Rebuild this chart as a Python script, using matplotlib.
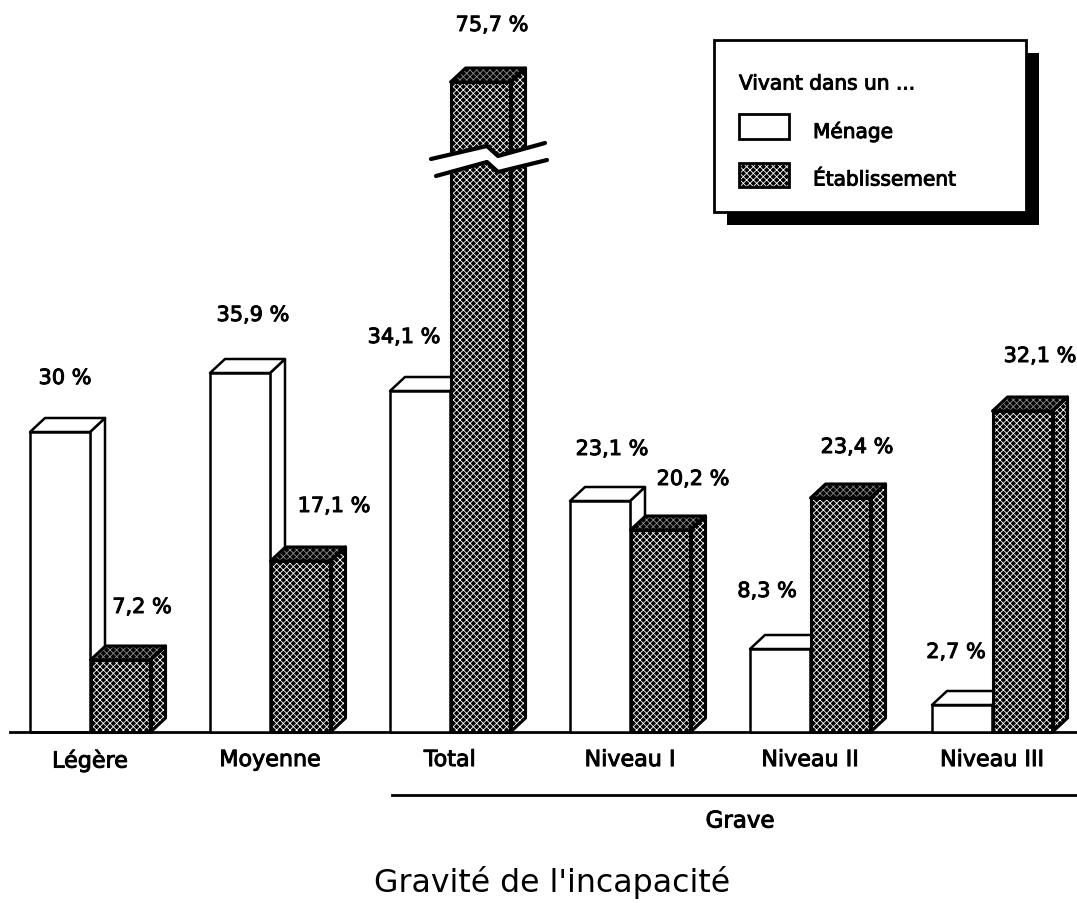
import matplotlib
matplotlib.use("Agg")
import matplotlib.pyplot as plt
import matplotlib.patheffects as pe
from matplotlib.transforms import Affine2D
from matplotlib.patches import Rectangle

categories = ["Légère", "Moyenne", "Total", "Niveau I", "Niveau II", "Niveau III"]
menage = [30, 35.9, 34.1, 23.1, 8.3, 2.7]
etablissement = [7.2, 17.1, 75.7, 20.2, 23.4, 32.1]
menage_labels = ["30 %", "35,9 %", "34,1 %", "23,1 %", "8,3 %", "2,7 %"]
etab_labels = ["7,2 %", "17,1 %", "75,7 %", "20,2 %", "23,4 %", "32,1 %"]
legend_title = "Vivant dans un ..."
series_names = ["Ménage", "Établissement"]
group_label = "Grave"
x_title = "Gravité de l'incapacité"

W, H = 1077, 904
plt.rcParams['font.family'] = ['DejaVu Sans']
plt.rcParams['hatch.linewidth'] = 0.6
fig = plt.figure(figsize=(W / 100, H / 100), dpi=100)
fig.patch.set_facecolor('white')
ax = fig.add_axes([10 / W, 1 - 733 / H, (W - 10) / W, 733 / H])
ax.set_xlim(-20 / 180, (W - 30) / 180)
ax.set_ylim(0, 73.3)
ax.patch.set_alpha(0)
for s in ['top', 'left', 'right']:
    ax.spines[s].set_visible(False)
ax.spines['bottom'].set_linewidth(2)
ax.set_yticks([])
pix = Affine2D().scale(1 / W, -1 / H).translate(0, 1) + fig.transFigure
heavy = [pe.withStroke(linewidth=0.7, foreground='black')]

def shown(v):
    # axis is broken: everything above the break is compressed
    return v if v <= 40 else 40 + (v - 40) * 25 / 35.7

BW = 60 / 180
DX, DY = 15 / 180, 1.4

def dark(c):
    return dict(facecolor=c, edgecolor='white', hatch='xxxxx', linewidth=0)

def box3d(x, v, filled, z):
    h = shown(v)
    front = [(x, 0), (x + BW, 0), (x + BW, h), (x, h)]
    top = [(x, h), (x + DX, h + DY), (x + BW + DX, h + DY), (x + BW, h)]
    side = [(x + BW, 0), (x + BW + DX, DY), (x + BW + DX, h + DY), (x + BW, h)]
    for poly in (side, top, front):
        if filled:
            ax.fill(*zip(*poly), zorder=z, clip_on=False, **dark('#000000'))
            if poly is top:
                ax.fill(*zip(*poly), facecolor='black', alpha=0.45, edgecolor='none',
                        zorder=z + 0.05, clip_on=False)
            ax.fill(*zip(*poly), facecolor='none', edgecolor='black', lw=2.2,
                    zorder=z + 0.1, clip_on=False, joinstyle='round')
        else:
            ax.fill(*zip(*poly), facecolor='white', edgecolor='black', lw=1.8,
                    zorder=z, clip_on=False, joinstyle='round')

positions = [0, 1, 2, 3, 4, 5.011]
for i in range(len(categories)):
    box3d(positions[i], menage[i], False, 2 + i)
    box3d(positions[i] + BW + 0.003, etablissement[i], True, 2.5 + i)

ax.set_xticks([p + BW for p in positions], categories)
ax.tick_params(axis='x', length=0, pad=13, labelsize=16)
for t in ax.get_xticklabels():
    t.set_path_effects(heavy)

TXT = dict(transform=pix, ha='center', va='center', fontsize=15, color='black',
           zorder=30, clip_on=False, path_effects=heavy)
m_pos = [(65, 379), (253, 316), (404, 338), (612, 450), (767, 592), (956, 653)]
e_pos = [(142, 608), (334, 507), (492, 26), (693, 480), (857, 448), (1040, 357)]
for s, p in zip(menage_labels, m_pos):
    ax.text(*p, s, **TXT)
for s, p in zip(etab_labels, e_pos):
    ax.text(*p, s, **TXT)

# axis break
up = [(431, 160), (487, 147), (498, 157), (545, 144)]
lo = [(436, 177), (487, 163), (498, 173), (547, 161)]
ax.fill(*zip(*(up + lo[::-1])), transform=pix, facecolor='white', edgecolor='none', zorder=20, clip_on=False)
ax.plot(*zip(*up), transform=pix, color='black', lw=3, zorder=21, clip_on=False, solid_capstyle='round')
ax.plot(*zip(*lo), transform=pix, color='black', lw=3, zorder=21, clip_on=False, solid_capstyle='round')

# group line
ax.plot([392, 1077], [796, 796], transform=pix, color='black', lw=2, clip_on=False, zorder=20)
ax.text(740, 822, group_label, **{**TXT, 'fontsize': 16.5})
ax.text(552, 883, x_title, transform=pix, ha='center', va='center', fontsize=22.7, color='black', clip_on=False)

# legend
ax.add_patch(Rectangle((727, 54), 312, 172, transform=pix, facecolor='black', edgecolor='none', zorder=22, clip_on=False))
ax.add_patch(Rectangle((714, 41), 312, 172, transform=pix, facecolor='white', edgecolor='black', lw=2, zorder=23, clip_on=False))
ax.add_patch(Rectangle((739, 115), 50, 25, transform=pix, facecolor='white', edgecolor='black', lw=2, zorder=24, clip_on=False))
ax.add_patch(Rectangle((739, 164), 50, 24, transform=pix, zorder=24, clip_on=False, **dark('#000000')))
ax.add_patch(Rectangle((739, 164), 50, 24, transform=pix, facecolor='none', edgecolor='black', lw=2, zorder=25, clip_on=False))
LEG = {**TXT, 'ha': 'left', 'fontsize': 14.5}
ax.text(739, 85, legend_title, **LEG)
ax.text(813, 133, series_names[0], **LEG)
ax.text(813, 181, series_names[1], **LEG)

fig.savefig('out.png', dpi=100)
